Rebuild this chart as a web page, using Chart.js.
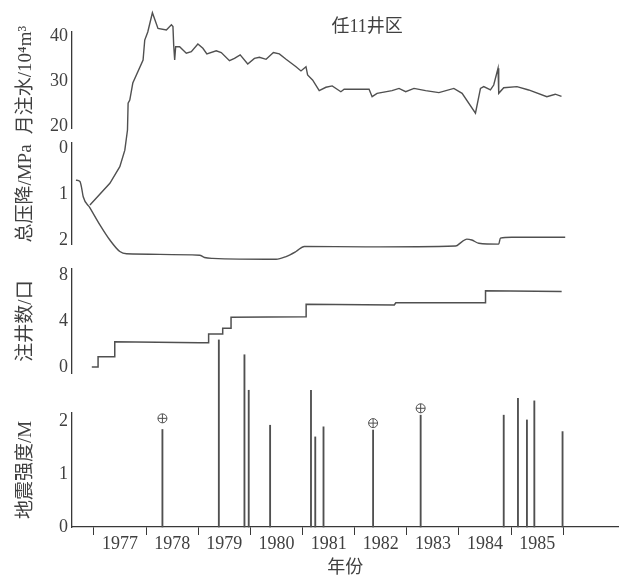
<!DOCTYPE html>
<html>
<head>
<meta charset="utf-8">
<script src="https://cdn.jsdelivr.net/npm/chart.js@4.4.1/dist/chart.umd.min.js"></script>
<style>
  html, body { margin: 0; padding: 0; background: #ffffff; }
  #wrap { width: 624px; height: 578px; position: relative; }
</style>
</head>
<body>
<div id="wrap"><canvas id="c"></canvas></div>
<script>
// ---------- data ----------
const chartTitle = '任11井区';
const xTitle = '年份';
const yearTicks = [1977, 1978, 1979, 1980, 1981, 1982, 1983, 1984, 1985, 1986];

// 月注水 (10^4 m^3)
const injYears = [1976.924, 1977.306, 1977.497, 1977.593, 1977.644, 1977.656, 1977.688, 1977.746, 1977.943, 1977.975,
  1978.033, 1978.122, 1978.229, 1978.390, 1978.486, 1978.516, 1978.530, 1978.549, 1978.568, 1978.644,
  1978.772, 1978.868, 1978.994, 1979.090, 1979.166, 1979.346, 1979.442, 1979.600, 1979.696, 1979.805,
  1979.950, 1980.078, 1980.174, 1980.302, 1980.442, 1980.556, 1980.685, 1980.876, 1980.971, 1981.067,
  1981.098, 1981.193, 1981.321, 1981.449, 1981.570, 1981.736, 1981.799, 1982.277, 1982.335, 1982.430,
  1982.717, 1982.851, 1982.979, 1983.138, 1983.361, 1983.616, 1983.902, 1984.061, 1984.317, 1984.413,
  1984.476, 1984.604, 1984.667, 1984.750, 1984.763, 1984.859, 1985.113, 1985.337, 1985.686, 1985.847, 1985.967];
const injValues = [2.35, 7.2, 10.9, 14.6, 19.1, 25.1, 25.8, 29.6, 34.75, 39.2,
  41.0, 45.3, 41.8, 41.45, 42.6, 42.2, 38.1, 34.75, 37.7, 37.7,
  36.25, 36.6, 38.3, 37.35, 36.1, 36.8, 36.4, 34.6, 35.1, 35.9,
  33.85, 35.1, 35.35, 34.9, 36.4, 36.1, 34.9, 33.25, 32.3, 33.25,
  31.4, 30.3, 27.9, 28.65, 28.95, 27.65, 28.2, 28.2, 26.55, 27.3,
  27.9, 28.4, 27.65, 28.4, 27.9, 27.45, 28.4, 27.3, 22.85, 28.4,
  28.8, 28.05, 29.15, 32.9, 27.3, 28.55, 28.8, 28.05, 26.55, 27.1, 26.6];

// 总压降 (MPa)
const presYears = [1976.656, 1976.732, 1976.765, 1976.795, 1976.924, 1977.115, 1977.306, 1977.497, 1977.625,
  1979.027, 1979.122, 1979.275, 1980.493, 1980.685, 1980.876, 1981.034, 1982.214, 1983.935, 1984.055,
  1984.151, 1984.247, 1984.380, 1984.763, 1984.795, 1985.011, 1986.038];
const presValues = [0.70, 0.73, 0.87, 1.06, 1.30, 1.67, 2.00, 2.25, 2.30,
  2.33, 2.38, 2.40, 2.42, 2.36, 2.25, 2.14, 2.15, 2.13, 2.04,
  1.98, 2.00, 2.07, 2.09, 1.96, 1.94, 1.94];

// 注井数 (口)
const wellYears = [1976.96, 1977.08, 1977.08, 1977.40, 1977.40, 1979.03, 1979.20, 1979.20, 1979.47, 1979.47,
  1979.63, 1979.63, 1981.07, 1981.07, 1982.76, 1982.79, 1984.51, 1984.51, 1985.97];
const wellCounts = [0, 0, 0.9, 0.9, 2.2, 2.1, 2.1, 2.87, 2.87, 3.37,
  3.37, 4.32, 4.37, 5.45, 5.39, 5.59, 5.59, 6.63, 6.57];

// 地震强度 (M)
const quakeYears = [1978.314, 1979.396, 1979.887, 1979.969, 1980.379, 1981.163, 1981.245, 1981.403,
  1982.354, 1983.266, 1984.859, 1985.132, 1985.304, 1985.446, 1985.987];
const quakeMags = [1.84, 3.53, 3.25, 2.58, 1.92, 2.58, 1.70, 1.89,
  1.83, 2.11, 2.11, 2.43, 2.02, 2.38, 1.80];
// ⊕ symbols
const markYears = [1978.314, 1982.354, 1983.266];
const markMags = [2.05, 1.96, 2.24];

const injTicks = [20, 30, 40];
const presTicks = [0, 1, 2];
const wellTicks = [0, 4, 8];
const quakeTicks = [0, 1, 2];

// ---------- styling ----------
const LINE = '#505050';
const AXIS = '#383838';
const TEXT = '#404040';
const NUMFONT = "'Liberation Serif', 'DejaVu Serif', 'Noto Sans CJK SC', serif";

const pts = (xs, ys) => xs.map((x, i) => ({ x: x, y: ys[i] }));

function yAxis(opts) {
  return {
    type: 'linear',
    position: 'left',
    stack: 'panels',
    stackWeight: opts.weight,
    weight: opts.order,
    min: opts.min,
    max: opts.max,
    reverse: !!opts.reverse,
    afterBuildTicks: (s) => { s.ticks = opts.ticks.map(v => ({ value: v })); },
    afterFit: (s) => { s.width = 72; },
    grid: { display: false, drawTicks: false },
    border: { display: true, color: AXIS, width: 1.3 },
    ticks: {
      color: TEXT, padding: 4,
      font: { family: NUMFONT, size: 18, lineHeight: 1 },
      callback: (v) => String(v)
    },
    title: {
      display: true, text: opts.title, color: TEXT,
      font: { family: NUMFONT, size: 19, lineHeight: 1 },
      padding: { top: 17, bottom: 0 }
    }
  };
}

function gapAxis(weight, order) {
  return {
    type: 'linear', position: 'left', stack: 'panels', stackWeight: weight, weight: order,
    min: 0, max: 1,
    afterBuildTicks: (s) => { s.ticks = []; },
    afterFit: (s) => { s.width = 72; },
    grid: { display: false, drawTicks: false },
    border: { display: false },
    ticks: { display: false }
  };
}

const titlePlugin = {
  id: 'panelTitle',
  afterDraw(chart) {
    const { ctx, chartArea } = chart;
    ctx.save();
    ctx.font = "18px " + NUMFONT;
    ctx.fillStyle = TEXT;
    ctx.textAlign = 'center';
    ctx.textBaseline = 'middle';
    ctx.fillText(chartTitle, chartArea.left + (chartArea.right - chartArea.left) * 0.54, chartArea.top - 5);
    ctx.restore();
  }
};

new Chart(document.getElementById('c'), {
  type: 'line',
  data: {
    datasets: [
      { type: 'line', label: 'mark+', data: pts(markYears, markMags), yAxisID: 'y4', showLine: false,
        pointStyle: 'cross', pointRadius: 4.5, borderColor: LINE, borderWidth: 1, clip: false, order: 0 },
      { type: 'line', label: 'markO', data: pts(markYears, markMags), yAxisID: 'y4', showLine: false,
        pointStyle: 'circle', pointRadius: 4.5, backgroundColor: '#ffffff', borderColor: LINE, borderWidth: 1, clip: false, order: 1 },
      { type: 'bar', label: '地震强度', data: pts(quakeYears, quakeMags), yAxisID: 'y4',
        backgroundColor: LINE, borderWidth: 0, barThickness: 1.2, clip: false, order: 2 },
      { type: 'line', label: '注井数', data: pts(wellYears, wellCounts), yAxisID: 'y3',
        borderColor: LINE, borderWidth: 1.5, pointRadius: 0, tension: 0, clip: false, order: 3 },
      { type: 'line', label: '总压降', data: pts(presYears, presValues), yAxisID: 'y2',
        borderColor: LINE, borderWidth: 1.4, pointRadius: 0, tension: 0.3, cubicInterpolationMode: 'monotone', clip: false, order: 4 },
      { type: 'line', label: '月注水', data: pts(injYears, injValues), yAxisID: 'y1',
        borderColor: LINE, borderWidth: 1.4, pointRadius: 0, tension: 0, clip: false, order: 5 }
    ]
  },
  options: {
    responsive: true,
    maintainAspectRatio: false,
    animation: false,
    layout: { padding: { left: 0, right: 4, top: 32, bottom: 0 } },
    plugins: { legend: { display: false }, tooltip: { enabled: false } },
    scales: {
      x: {
        type: 'linear', position: 'bottom',
        offset: false,
        min: 1976.58, max: 1987.06,
        afterBuildTicks: (s) => { s.ticks = yearTicks.map(v => ({ value: v })); },
        afterFit: (s) => { s.height = 51; },
        grid: { display: true, offset: false, drawOnChartArea: false, drawTicks: true, tickLength: 8, color: AXIS, lineWidth: 1 },
        border: { display: true, color: AXIS, width: 1.3 },
        ticks: {
          color: TEXT, padding: 0, labelOffset: 26.15, maxRotation: 0, autoSkip: false,
          font: { family: NUMFONT, size: 18, lineHeight: 1 },
          callback: (v) => (v < yearTicks[yearTicks.length - 1] ? String(v) : '')
        },
        title: {
          display: true, text: xTitle, color: TEXT,
          font: { family: NUMFONT, size: 18, lineHeight: 1 },
          padding: { top: 0, bottom: 1 }
        }
      },
      y4: yAxis({ weight: 114, order: 1, min: 0, max: 2.151, ticks: quakeTicks, title: '地震强度/M' }),
      gC: gapAxis(40, 2),
      y3: yAxis({ weight: 104, order: 3, min: -0.52, max: 8.52, ticks: wellTicks, title: '注井数/口' }),
      gB: gapAxis(25, 4),
      y2: yAxis({ weight: 101, order: 5, min: -0.109, max: 2.087, reverse: true, ticks: presTicks, title: '总压降/MPa' }),
      gA: gapAxis(15, 6),
      y1: yAxis({ weight: 96, order: 7, min: 19.55, max: 41.0, ticks: injTicks, title: '月注水/10⁴m³' })
    }
  },
  plugins: [titlePlugin]
});
</script>
</body>
</html>
